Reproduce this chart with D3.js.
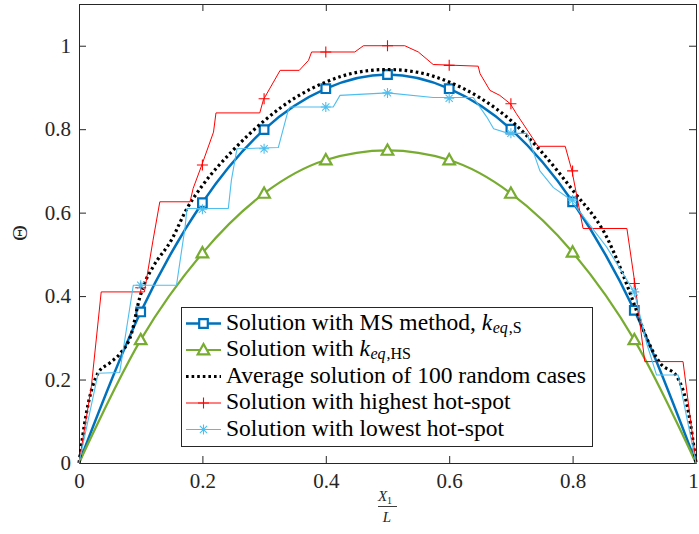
<!DOCTYPE html>
<html>
<head>
<meta charset="utf-8">
<script src="https://cdn.jsdelivr.net/npm/d3@7"></script>
<style>
  body { margin: 0; background: #fff; }
</style>
</head>
<body>
<svg id="chart" width="699" height="534"></svg>
<script>
// values
const markerX = [0.1, 0.2, 0.3, 0.4, 0.5, 0.6, 0.7, 0.8, 0.9];

const msX = [0, 0.1, 0.2, 0.3, 0.4, 0.5, 0.6, 0.7, 0.8, 0.9, 1];
const msTheta = [0, 0.362, 0.624, 0.799, 0.897, 0.931, 0.897, 0.8, 0.626, 0.366, 0];
const hsTheta = [0, 0.295, 0.503, 0.646, 0.726, 0.749, 0.726, 0.646, 0.505, 0.295, 0];

const avgX = [0, 0.012, 0.031, 0.05, 0.067, 0.085, 0.098, 0.106, 0.12, 0.15, 0.175, 0.2, 0.25, 0.3, 0.35, 0.4, 0.45, 0.5,
  0.55, 0.6, 0.65, 0.7, 0.75, 0.8, 0.855, 0.9, 0.917, 0.942, 0.969, 0.988, 1];
const avgTheta = [0, 0.12, 0.216, 0.24, 0.263, 0.31, 0.394, 0.43, 0.47, 0.535, 0.61, 0.665, 0.75, 0.82, 0.875, 0.913, 0.936, 0.943,
  0.936, 0.913, 0.875, 0.821, 0.745, 0.654, 0.542, 0.38, 0.31, 0.239, 0.207, 0.12, 0];

const highX = [0, 0.02, 0.036, 0.106, 0.12, 0.131, 0.18, 0.185, 0.199, 0.218, 0.222, 0.293, 0.299, 0.326, 0.357, 0.372, 0.377,
  0.447, 0.461, 0.528, 0.55, 0.574, 0.647, 0.65, 0.666, 0.682, 0.699, 0.709, 0.744, 0.788, 0.799, 0.817, 0.888, 0.901,
  0.917, 0.979, 1];
const highTheta = [0, 0.183, 0.41, 0.41, 0.534, 0.626, 0.626, 0.658, 0.714, 0.793, 0.839, 0.839, 0.871, 0.941, 0.941, 0.965, 0.985,
  0.985, 1.0, 1.0, 0.985, 0.955, 0.951, 0.933, 0.893, 0.881, 0.861, 0.837, 0.759, 0.759, 0.7, 0.562, 0.562, 0.43,
  0.243, 0.243, 0];
const highMarks = [0.42, 0.714, 0.873, 0.985, 1.0, 0.953, 0.861, 0.7, 0.43];

const lowX = [0, 0.031, 0.066, 0.088, 0.158, 0.172, 0.175, 0.242, 0.247, 0.256, 0.323, 0.339, 0.342, 0.412, 0.423, 0.5,
  0.574, 0.639, 0.661, 0.672, 0.696, 0.726, 0.747, 0.769, 0.796, 0.855, 0.9, 0.92, 0.936, 0.971, 1];
const lowTheta = [0, 0.215, 0.217, 0.426, 0.426, 0.566, 0.61, 0.61, 0.678, 0.753, 0.756, 0.845, 0.853, 0.853, 0.881, 0.887,
  0.876, 0.876, 0.829, 0.801, 0.79, 0.79, 0.7, 0.66, 0.632, 0.518, 0.41, 0.287, 0.211, 0.211, 0];
const lowMarks = [0.426, 0.608, 0.753, 0.853, 0.887, 0.874, 0.79, 0.63, 0.41];

const xTicks = [0, 0.2, 0.4, 0.6, 0.8, 1];
const yTicks = [0, 0.2, 0.4, 0.6, 0.8, 1];

const legendLabels = [
  [{ t: "Solution with MS method, " }, { t: "k", i: 1 }, { t: "eq", i: 1, sub: 1 }, { t: ",S", sub: 2 }],
  [{ t: "Solution with " }, { t: "k", i: 1 }, { t: "eq", i: 1, sub: 1 }, { t: ",HS", sub: 2 }],
  [{ t: "Average solution of 100 random cases" }],
  [{ t: "Solution with highest hot-spot" }],
  [{ t: "Solution with lowest hot-spot" }]
];

const serif = '"Liberation Serif", "DejaVu Serif", serif';

const svg = d3.select("#chart").style("font-family", serif);
const axisColor = "#262626";

const x = d3.scaleLinear().domain([0, 1]).range([79, 696]);
const y = d3.scaleLinear().domain([0, 1.1]).range([463, 4]);

// axes with inward ticks, box on all four sides
const xAxis = svg.append("g")
  .attr("transform", `translate(0,${y(0)})`)
  .call(d3.axisBottom(x).tickValues(xTicks).tickFormat(d3.format("~g")).tickSizeInner(-7).tickSizeOuter(0).tickPadding(10));
svg.append("g")
  .attr("transform", `translate(0,${y(1.1)})`)
  .call(d3.axisTop(x).tickValues(xTicks).tickFormat("").tickSizeInner(-7).tickSizeOuter(0));
svg.append("g")
  .attr("transform", `translate(${x(0)},0)`)
  .call(d3.axisLeft(y).tickValues(yTicks).tickFormat(d3.format("~g")).tickSizeInner(-7).tickSizeOuter(0).tickPadding(8));
svg.append("g")
  .attr("transform", `translate(${x(1)},0)`)
  .call(d3.axisRight(y).tickValues(yTicks).tickFormat("").tickSizeInner(-7).tickSizeOuter(0));

svg.selectAll("g").attr("font-family", null);
svg.selectAll(".domain").attr("stroke", axisColor).attr("stroke-width", 1);
svg.selectAll(".tick line").attr("stroke", axisColor);
svg.selectAll(".tick text").attr("fill", axisColor)
  .style("font-size", "21px").style("font-family", serif);
xAxis.selectAll(".tick text").filter(d => d === 1).attr("dx", -3);

// curves
const zip = (xs, ys) => xs.map((d, i) => [d, ys[i]]);
const smooth = d3.line().x(d => x(d[0])).y(d => y(d[1])).curve(d3.curveMonotoneX);
const straight = d3.line().x(d => x(d[0])).y(d => y(d[1]));

const series = [
  { key: "ms", color: "#0072BD", width: 2.5, dash: null, path: smooth(zip(msX, msTheta)), marks: msTheta.slice(1, 10), sym: "square" },
  { key: "hs", color: "#77AC30", width: 2.2, dash: null, path: smooth(zip(msX, hsTheta)), marks: hsTheta.slice(1, 10), sym: "triangle" },
  { key: "avg", color: "#000", width: 3.2, dash: "2.6,3", path: smooth(zip(avgX, avgTheta)), marks: null, sym: null },
  { key: "high", color: "#FF0000", width: 1, dash: null, path: straight(zip(highX, highTheta)), marks: highMarks, sym: "plus" },
  { key: "low", color: "#4DBEEE", width: 1.1, dash: null, path: straight(zip(lowX, lowTheta)), marks: lowMarks, sym: "star" }
];

function markerPath(sym) {
  if (sym === "square") return "M-4.3,-4.3H4.3V4.3H-4.3Z";
  if (sym === "triangle") return "M0,-6L5.8,4.3H-5.8Z";
  if (sym === "plus") return "M-5.5,0H5.5M0,-5.5V5.5";
  if (sym === "star") return "M-5,0H5M0,-5V5M-3.6,-3.6L3.6,3.6M-3.6,3.6L3.6,-3.6";
  return "";
}

function drawMarker(g, s, cx, cy) {
  const filled = s.sym === "square" || s.sym === "triangle";
  g.append("path")
    .attr("d", markerPath(s.sym))
    .attr("transform", `translate(${cx},${cy})`)
    .attr("fill", filled ? "#fff" : "none")
    .attr("stroke", s.color)
    .attr("stroke-width", filled ? 2.2 : 1.1);
}

const plot = svg.append("g");
series.forEach(s => {
  plot.append("path")
    .attr("d", s.path)
    .attr("fill", "none")
    .attr("stroke", s.color)
    .attr("stroke-width", s.width)
    .attr("stroke-dasharray", s.dash)
    .attr("stroke-linejoin", "round");
  if (s.marks) {
    const mg = plot.append("g");
    s.marks.forEach((v, i) => drawMarker(mg, s, x(markerX[i]), y(v)));
  }
});

// legend
const legend = svg.append("g");
legend.append("rect")
  .attr("x", 181.5).attr("y", 307.5).attr("width", 411).attr("height", 139)
  .attr("fill", "#fff").attr("stroke", axisColor).attr("stroke-width", 1);

const legendTexts = [];
series.forEach((s, i) => {
  const ly = 323.5 + i * 26.5;
  legend.append("line")
    .attr("x1", 186).attr("x2", 221).attr("y1", ly).attr("y2", ly)
    .attr("stroke", s.color).attr("stroke-width", s.width).attr("stroke-dasharray", s.dash);
  if (s.sym) drawMarker(legend, s, 203.5, ly);
  const t = legend.append("text")
    .attr("x", 226).attr("y", ly + 6)
    .style("font-size", "20px").style("font-family", serif).attr("fill", "#000");
  legendLabels[i].forEach(p => {
    const sp = t.append("tspan").text(p.t);
    if (p.i) sp.style("font-style", "italic");
    if (p.sub === 1) sp.attr("class", "sub").attr("dy", 3).attr("dx", 0.5);
    if (p.sub === 2) sp.attr("class", "sub").attr("dx", 1);
  });
  legendTexts.push(t);
});
// size the legend font so the longest entry spans the box like the reference
const longest = legendTexts[2].node().getComputedTextLength();
const fs = Math.min(24, 20 * 360 / longest);
legendTexts.forEach(t => t.style("font-size", fs + "px"));
legend.selectAll(".sub").style("font-size", (fs * 0.68) + "px");

// axis labels
svg.append("text")
  .attr("transform", "translate(27,233) rotate(-90)")
  .attr("text-anchor", "middle")
  .style("font-size", "22px").style("font-family", serif)
  .attr("fill", axisColor)
  .text("Θ");

const xl = svg.append("g").attr("transform", "translate(387,0)");
const num = xl.append("text")
  .attr("x", -2).attr("y", 501).attr("text-anchor", "middle")
  .style("font-size", "15px").style("font-family", serif).attr("fill", axisColor);
num.append("tspan").style("font-style", "italic").text("X");
num.append("tspan").attr("dy", 3).style("font-size", "10px").text("1");
xl.append("line")
  .attr("x1", -9).attr("x2", 10).attr("y1", 506.5).attr("y2", 506.5)
  .attr("stroke", axisColor).attr("stroke-width", 0.9);
xl.append("text")
  .attr("x", 0).attr("y", 522).attr("text-anchor", "middle")
  .style("font-size", "15px").style("font-style", "italic").style("font-family", serif).attr("fill", axisColor)
  .text("L");
</script>
</body>
</html>
